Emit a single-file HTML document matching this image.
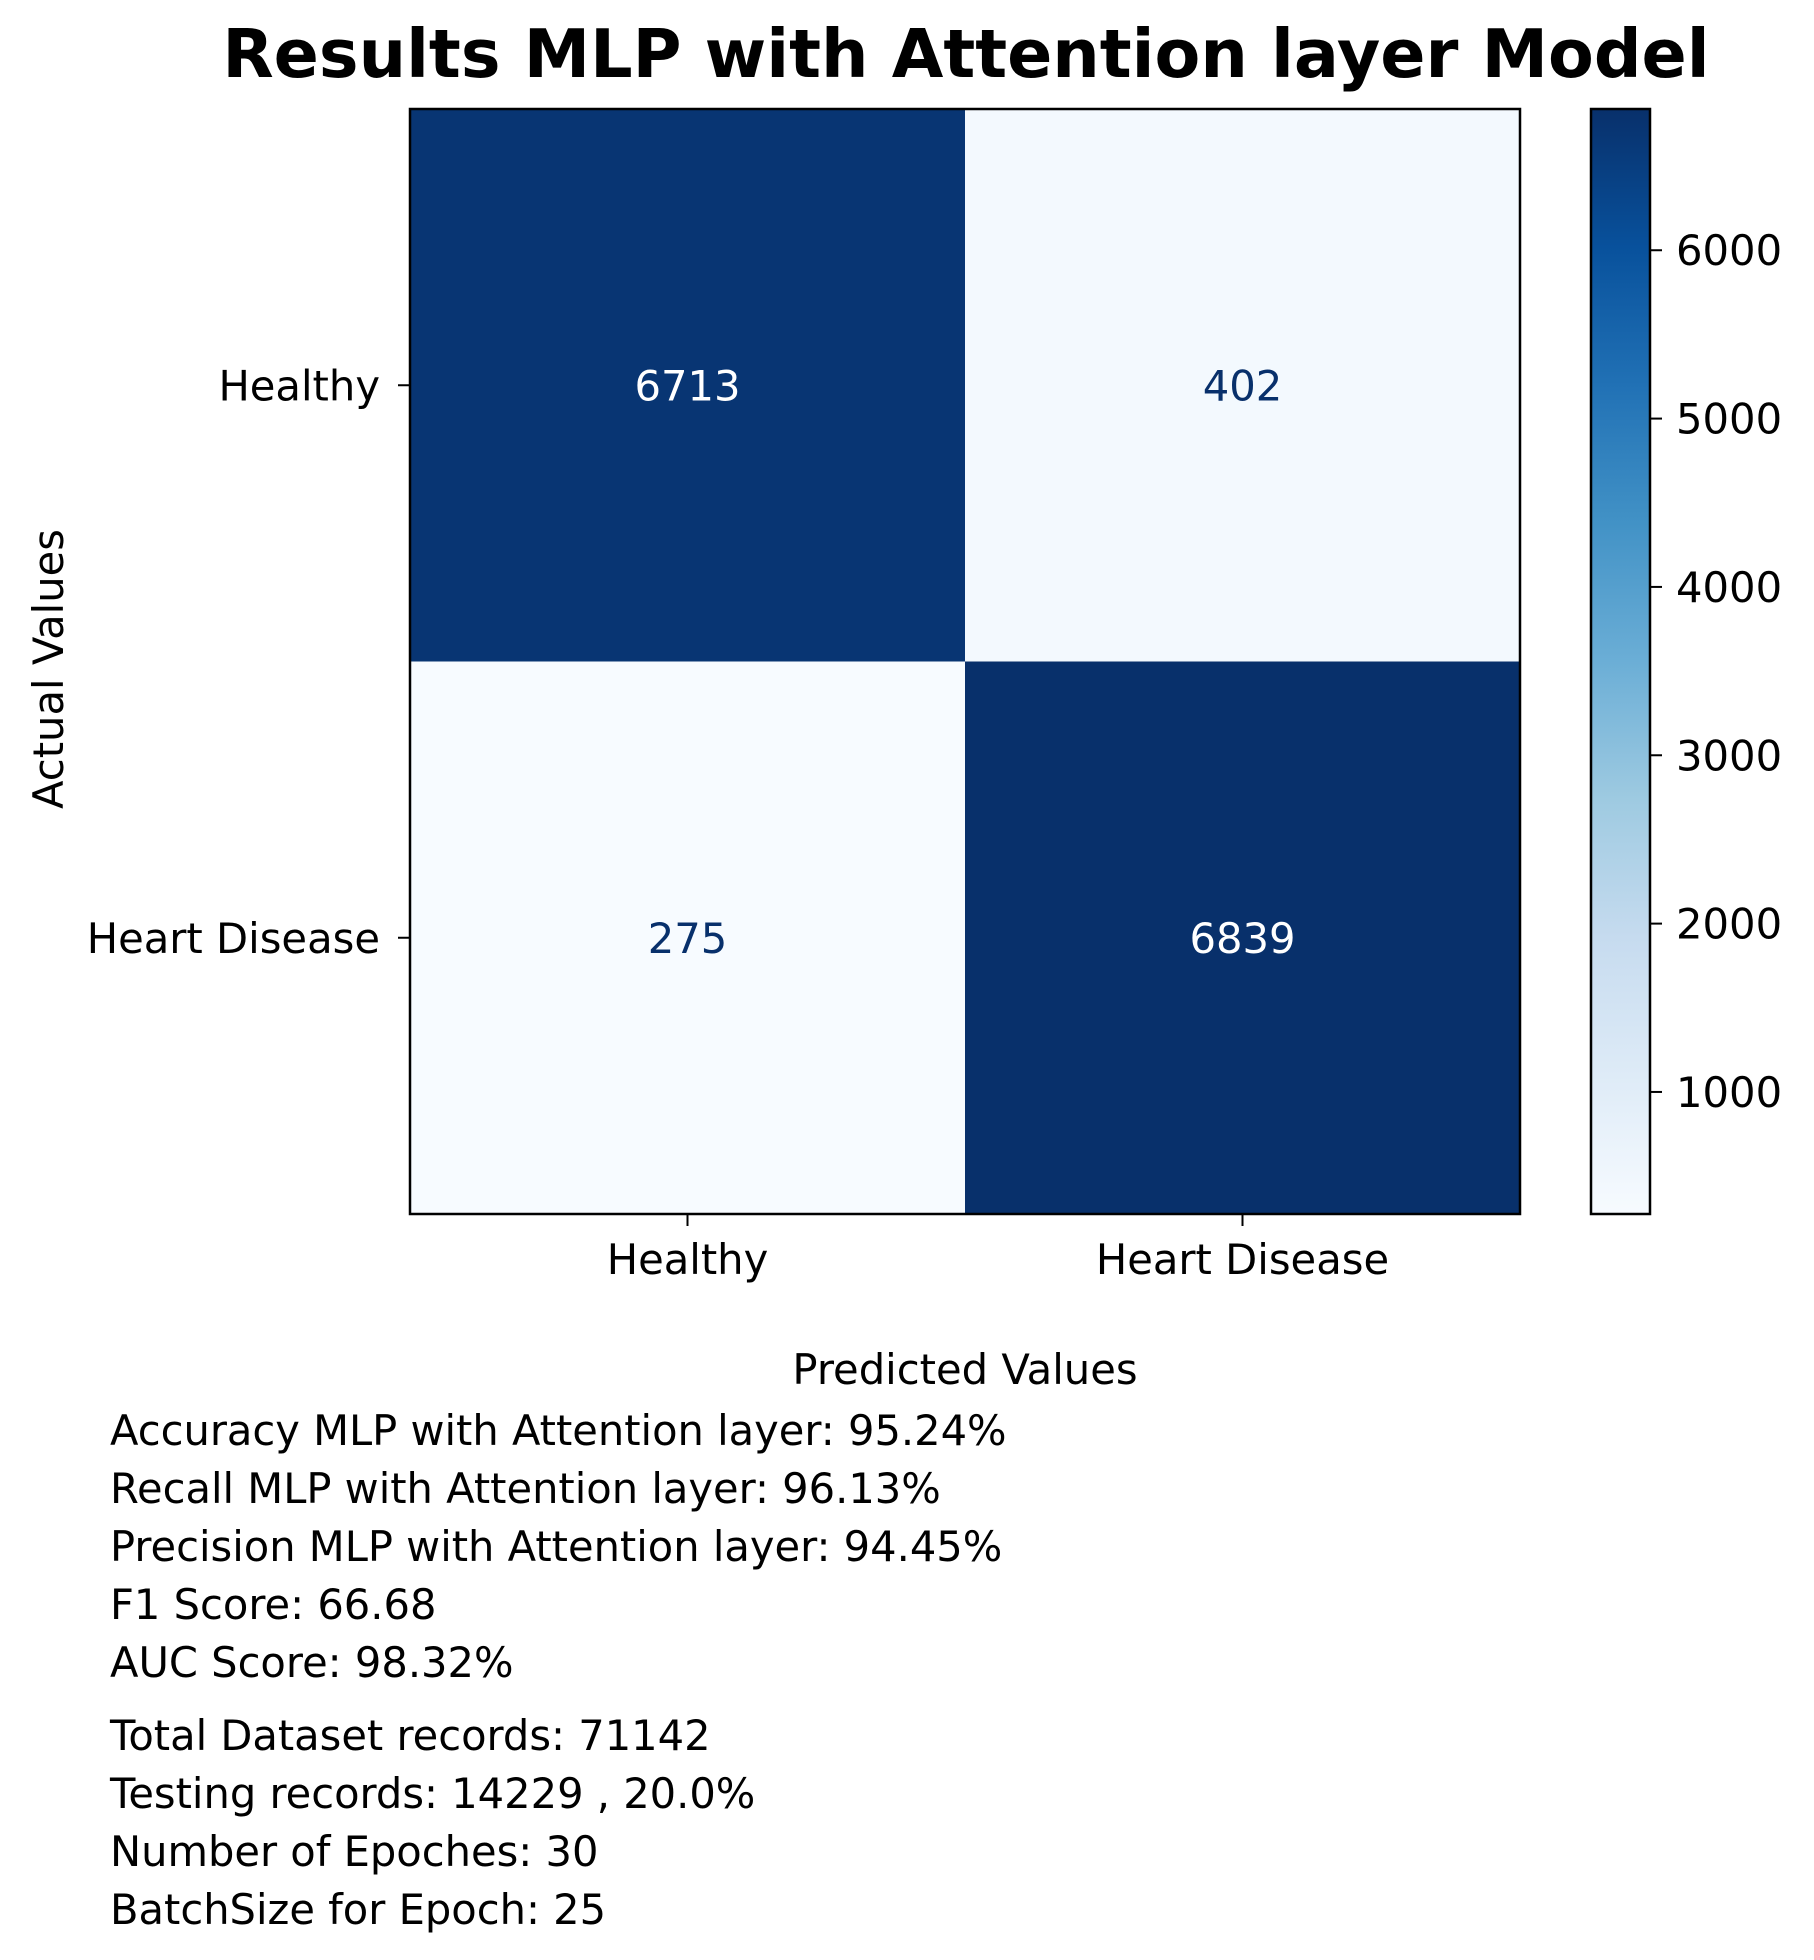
<!DOCTYPE html>
<html><head><meta charset="utf-8"><style>
body{margin:0;background:#fff}
svg{display:block;font-family:"DejaVu Sans","Liberation Sans",sans-serif}
</style></head><body>
<svg id="chart" width="1814" height="1960" viewBox="0 0 1814 1960">
<defs>
<linearGradient id="blues" x1="0" y1="1" x2="0" y2="0">
<stop offset="0" stop-color="#f7fbff"/><stop offset="0.125" stop-color="#deebf7"/>
<stop offset="0.25" stop-color="#c6dbef"/><stop offset="0.375" stop-color="#9ecae1"/>
<stop offset="0.5" stop-color="#6baed6"/><stop offset="0.625" stop-color="#4292c6"/>
<stop offset="0.75" stop-color="#2171b5"/><stop offset="0.875" stop-color="#08519c"/>
<stop offset="1" stop-color="#08306b"/></linearGradient>
</defs>
<text x="966" y="77" text-anchor="middle" font-size="66.7" font-weight="bold">Results MLP with Attention layer Model</text>
<g id="cells"></g>
<rect x="410" y="109" width="1110" height="1105" fill="none" stroke="#000" stroke-width="2.5"/>
<g id="ticks" font-size="41.7"></g>
<text x="965" y="1384" text-anchor="middle" font-size="41.7">Predicted Values</text>
<text transform="translate(63,669) rotate(-90)" text-anchor="middle" font-size="41.7">Actual Values</text>
<rect x="1591" y="109" width="59" height="1105" fill="url(#blues)" stroke="#000" stroke-width="2.5"/>
<g id="cbticks" font-size="41.7"></g>
<g font-size="41.6">
<text x="110" y="1445">Accuracy MLP with Attention layer: 95.24%</text>
<text x="110" y="1503">Recall MLP with Attention layer: 96.13%</text>
<text x="110" y="1561">Precision MLP with Attention layer: 94.45%</text>
<text x="110" y="1619">F1 Score: 66.68</text>
<text x="110" y="1677">AUC Score: 98.32%</text>
<text x="110" y="1750">Total Dataset records: 71142</text>
<text x="110" y="1808">Testing records: 14229 , 20.0%</text>
<text x="110" y="1866">Number of Epoches: 30</text>
<text x="110" y="1924">BatchSize for Epoch: 25</text>
</g>
</svg>
<script>
const labels=["Healthy","Heart Disease"];
const values=[[6713,402],[275,6839]];
const cbTicks=[1000,2000,3000,4000,5000,6000];
const NS="http://www.w3.org/2000/svg";
const L=410,T=109,W=1110,H=1105;
let mn=Math.min(...values.flat()),mx=Math.max(...values.flat());
const stops=["#f7fbff","#deebf7","#c6dbef","#9ecae1","#6baed6","#4292c6","#2171b5","#08519c","#08306b"];
function hex(c){return [1,3,5].map(i=>parseInt(c.substr(i,2),16));}
function color(v){let t=(v-mn)/(mx-mn);t=Math.max(0,Math.min(1,t))*8;let i=Math.min(7,Math.floor(t)),f=t-i;
const a=hex(stops[i]),b=hex(stops[i+1]);return "rgb("+a.map((x,k)=>Math.round(x+(b[k]-x)*f)).join(",")+")";}
function el(tag,attrs,parent){const e=document.createElementNS(NS,tag);for(const k in attrs)e.setAttribute(k,attrs[k]);parent.appendChild(e);return e;}
const n=labels.length,cw=W/n,ch=H/n;
const cells=document.getElementById("cells"),ticks=document.getElementById("ticks"),cb=document.getElementById("cbticks");
for(let r=0;r<n;r++)for(let c=0;c<n;c++){const v=values[r][c];
const rc=el("rect",{x:L+c*cw,y:T+r*ch,width:cw+0.5,height:ch+0.5,fill:color(v)},cells);


const t=el("text",{x:L+(c+0.5)*cw,y:T+(r+0.5)*ch+15,"text-anchor":"middle","font-size":41.7,fill:(v-mn)/(mx-mn)>0.5?"#fff":"#08306b"},cells);
t.textContent=v;

}
labels.forEach((lb,i)=>{
const x=L+(i+0.5)*cw,y=T+(i+0.5)*ch;
el("line",{x1:x,x2:x,y1:T+H,y2:T+H+12,stroke:"#000","stroke-width":2},ticks);
const tx=el("text",{x:x,y:T+H+60,"text-anchor":"middle"},ticks);tx.textContent=lb;


el("line",{x1:L-12,x2:L,y1:y,y2:y,stroke:"#000","stroke-width":2},ticks);
const ty=el("text",{x:L-30,y:y+15,"text-anchor":"end"},ticks);ty.textContent=lb;

});
cbTicks.forEach(v=>{const y=T+H-(v-mn)/(mx-mn)*H;
el("line",{x1:1650,x2:1662,y1:y,y2:y,stroke:"#000","stroke-width":2},cb);
const t=el("text",{x:1676,y:y+15},cb);t.textContent=v;

});
</script>
</body></html>
